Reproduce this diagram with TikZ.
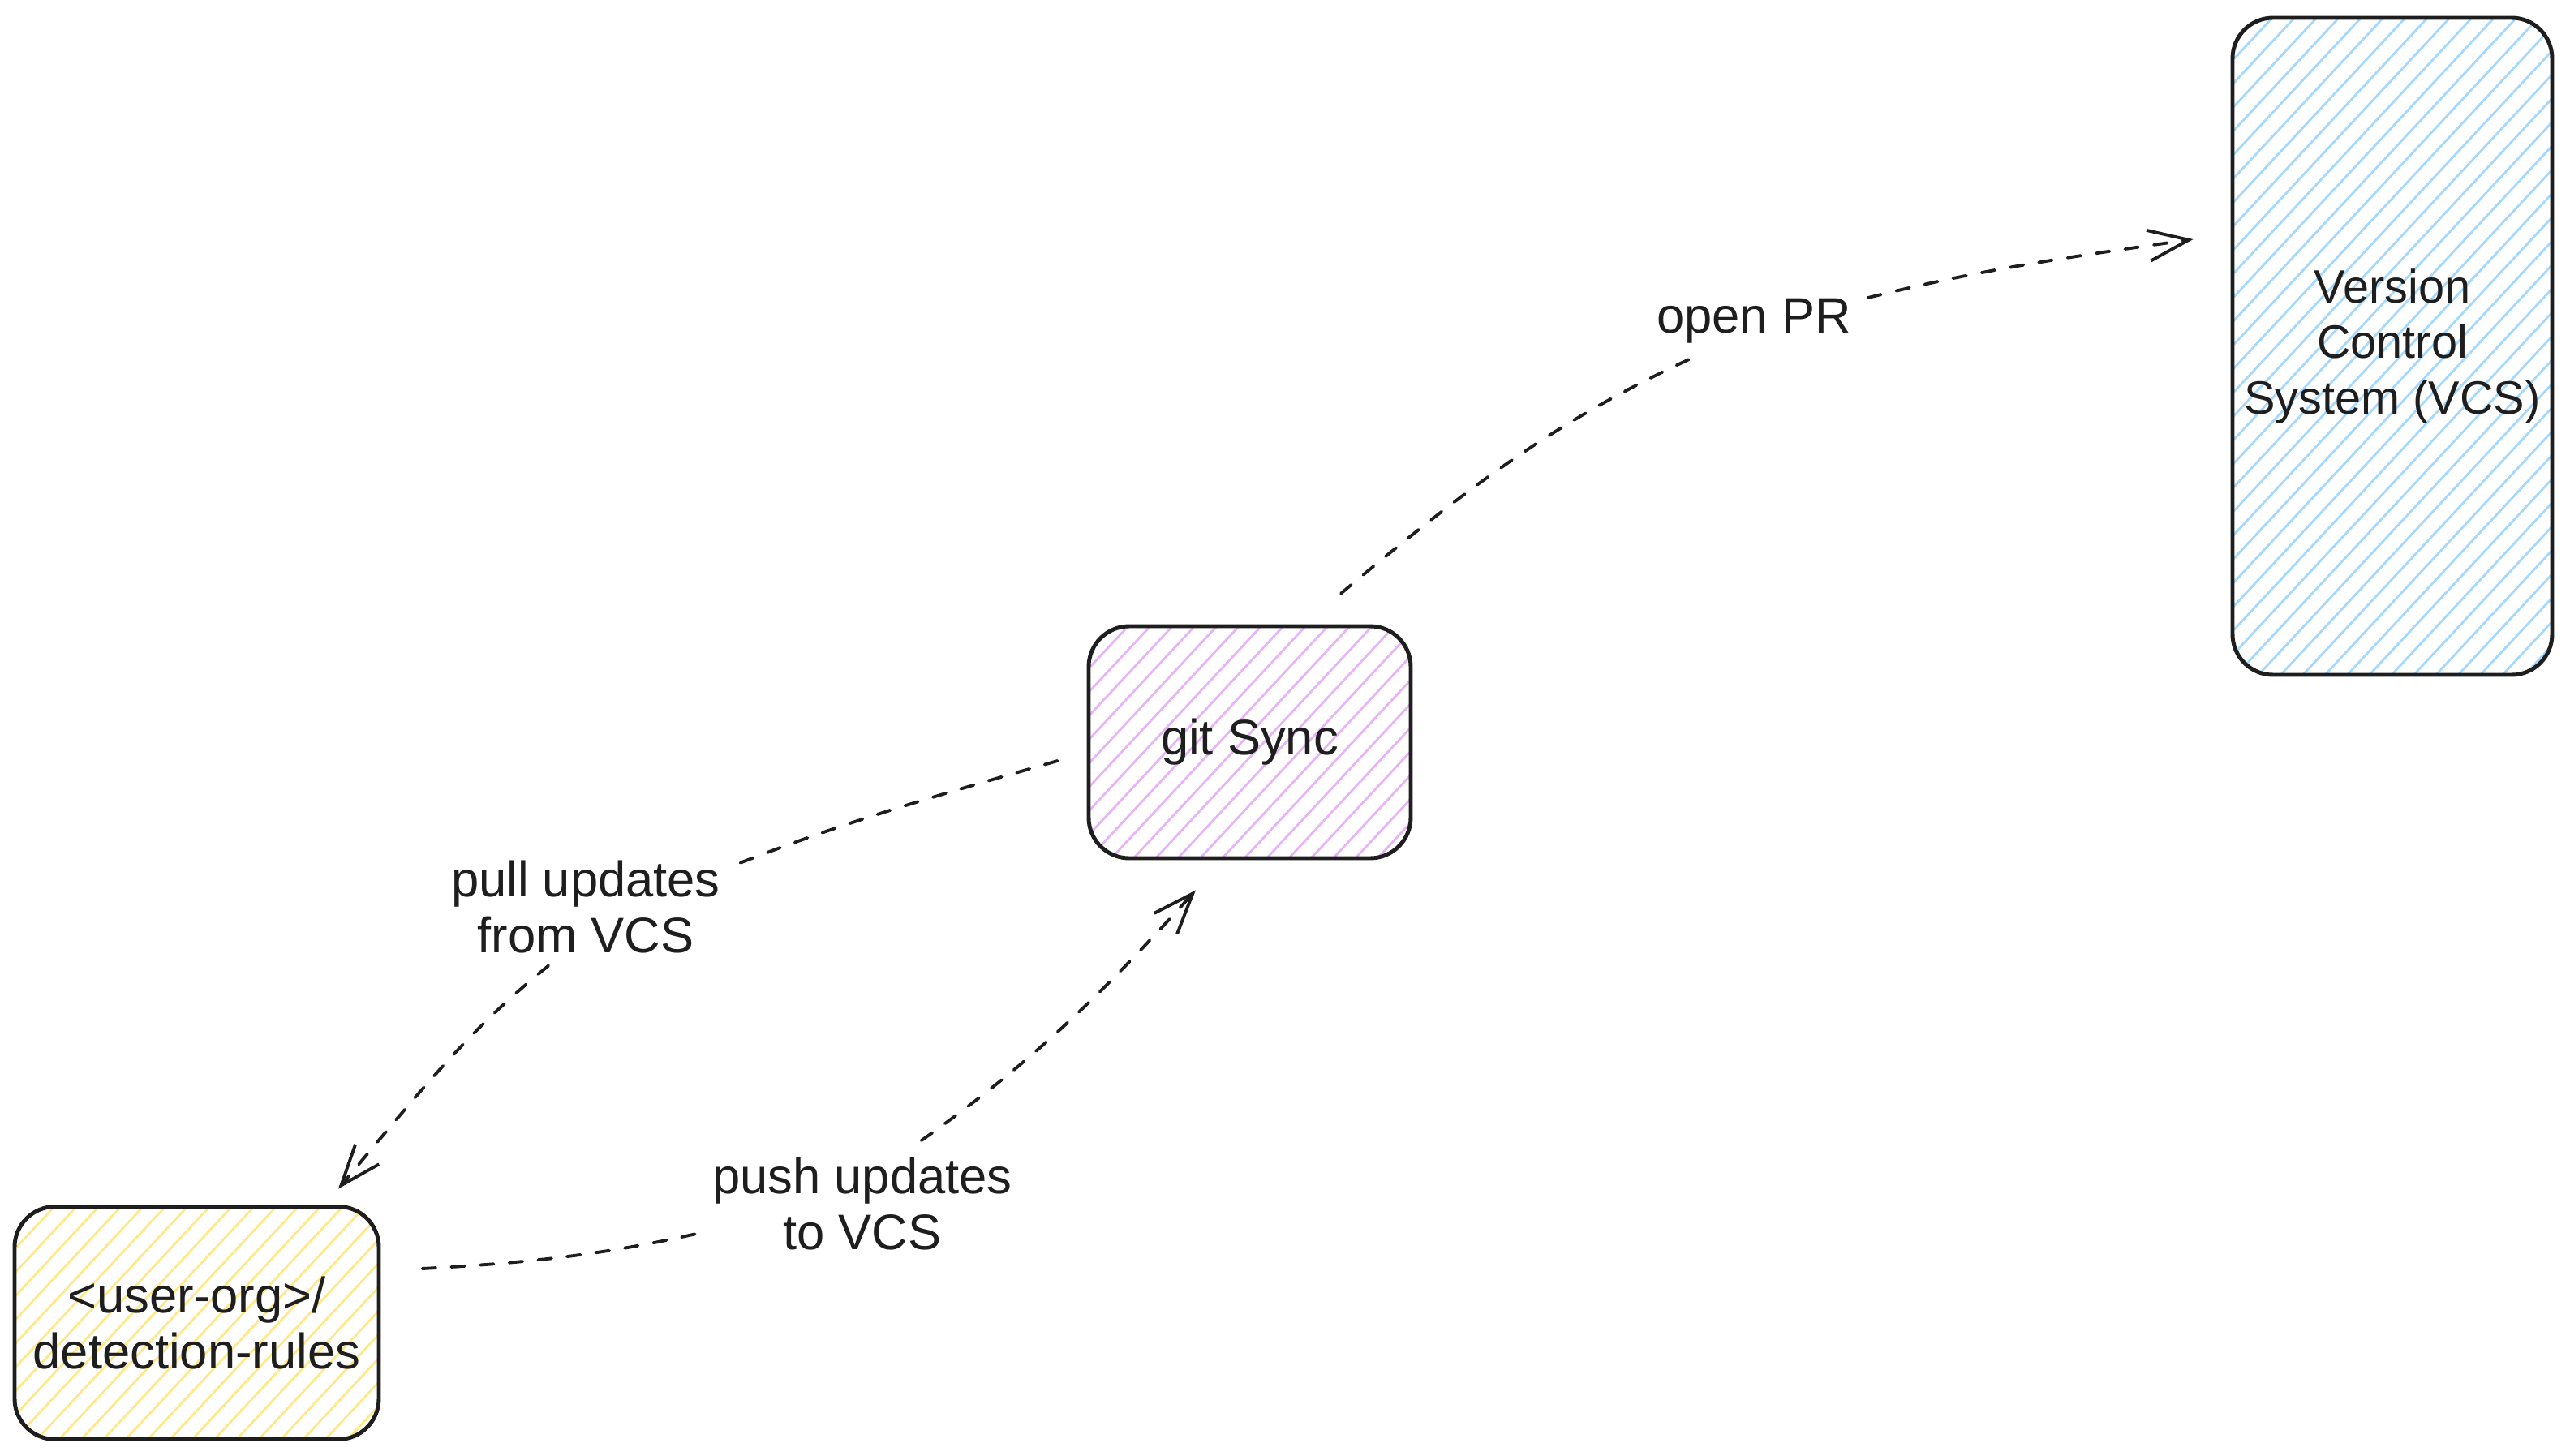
\documentclass[tikz,border=0pt]{standalone}
\usepackage{fontspec}
\setmainfont{Liberation Sans}
\usetikzlibrary{arrows.meta,calc,patterns.meta}

\definecolor{ink}{HTML}{1E1E1E}
\definecolor{violethatch}{HTML}{E6B4F7}
\definecolor{bluehatch}{HTML}{A5D8FF}
\definecolor{yellowhatch}{HTML}{FFE88A}

\begin{document}
\begin{tikzpicture}[
    every node/.style={text=ink,font=\fontsize{17.5}{19.5}\selectfont},
    sysbox/.style={draw=ink,line width=1.4pt,rounded corners=0.5cm,align=center,inner xsep=0pt,
                   pattern={Lines[angle=47,distance=0.2cm,line width=0.8pt]}},
    flow/.style={draw=ink,line width=1.1pt,line cap=round,dash pattern=on 4.7pt off 5.5pt,
                 -{Straight Barb[length=5mm,width=3.8mm]}},
    lbl/.style={fill=white,align=center,inner sep=0.12cm}
  ]
\useasboundingbox (0,0) rectangle (31.68,17.94);

% boxes
\node[sysbox,pattern color=violethatch,minimum width=3.97cm,minimum height=2.86cm]
  (gitsync) at (15.405,8.79) {git Sync};
\node[sysbox,pattern color=bluehatch,minimum width=3.94cm,minimum height=8.10cm,
      font=\fontsize{16.4}{19.5}\selectfont]
  (vcs) at (29.49,13.67) {Version\\Control\\System (VCS)};
\node[sysbox,pattern color=yellowhatch,minimum width=4.49cm,minimum height=2.87cm]
  (userorg) at (2.425,1.63) {<user-org>/\\detection-rules};

% free ends of the connectors
\coordinate (prstart) at ($(gitsync.north)+(1.125,0.39)$);
\coordinate (prmid) at (21.84,13.95);
\coordinate (prend) at ($(vcs.west)+(-0.46,1.32)$);
\coordinate (pullstart) at ($(gitsync.west)+(-0.37,-0.23)$);
\coordinate (pullmid) at (7.64,6.68);
\coordinate (pullend) at ($(userorg.north)+(1.745,0.195)$);
\coordinate (pushstart) at ($(userorg.east)+(0.51,0.67)$);
\coordinate (pushmid) at (10.38,3.22);
\coordinate (pushend) at ($(gitsync.south)+(-0.665,-0.38)$);

% connectors
\draw[flow] (prstart) to[out=40,in=202] (prmid)
  node[lbl,xshift=-0.22cm,yshift=0.03cm] (openpr) {open PR}
  to[out=16,in=188] (prend);
\draw[flow] (pullstart) to[out=196,in=24] (pullmid)
  node[lbl,xshift=-0.42cm,yshift=0.08cm] (pullupd) {pull updates\\from VCS}
  to[out=214,in=50] (pullend);
\draw[flow] (pushstart) to[out=3,in=197] (pushmid)
  node[lbl,xshift=0.25cm,yshift=-0.12cm] (pushupd) {push updates\\to VCS}
  to[out=33,in=228] (pushend);
\end{tikzpicture}
\end{document}
